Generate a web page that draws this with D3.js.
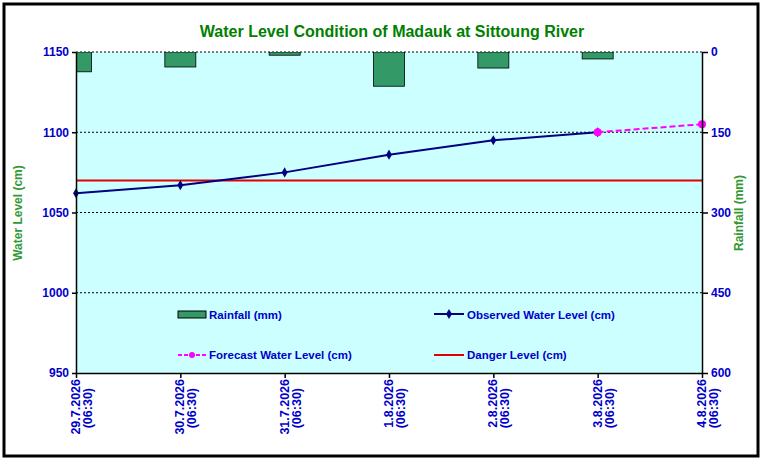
<!DOCTYPE html>
<html><head><meta charset="utf-8">
<script src="https://cdn.jsdelivr.net/npm/d3@7"></script>
<style>body{margin:0;background:#fff}text{font-family:Arial,"Liberation Sans",sans-serif;font-weight:bold}</style>
</head><body><div id="chart"></div>
<script>
var dates = ["29.7.2026", "30.7.2026", "31.7.2026", "1.8.2026", "2.8.2026", "3.8.2026", "4.8.2026"];
var rainfall = [37, 28, 6, 64, 30, 13];
var observed = [1062, 1067, 1075, 1086, 1095, 1100];
var forecast = [null, null, null, null, null, 1100, 1105];
var danger = 1070;
var leftTicks = [950, 1000, 1050, 1100, 1150];
var rightTicks = [0, 150, 300, 450, 600];

var W = 764, H = 463, L = 76, R = 702, T = 52, B = 373;
var svg = d3.select("#chart").append("svg").attr("width", W).attr("height", H);
svg.append("rect").attr("x", 4).attr("y", 4).attr("width", 754).attr("height", 452)
  .attr("fill", "#fff").attr("stroke", "#000").attr("stroke-width", 3);

var x = d3.scalePoint().domain(d3.range(dates.length)).range([L, R]);
var y = d3.scaleLinear().domain([950, 1150]).range([B, T]);
var y2 = d3.scaleLinear().domain([0, 600]).range([T, B]);

svg.append("rect").attr("x", L).attr("y", T).attr("width", R - L).attr("height", B - T).attr("fill", "#ccffff");
svg.append("defs").append("clipPath").attr("id", "pc").append("rect")
  .attr("x", L).attr("y", T).attr("width", R - L).attr("height", B - T);

svg.append("g").selectAll("line").data(leftTicks.slice(1)).join("line")
  .attr("x1", L).attr("x2", R).attr("y1", d => y(d)).attr("y2", d => y(d))
  .attr("stroke", "#000").attr("stroke-dasharray", "2,2").attr("stroke-width", 1);

var bw = 31;
svg.append("g").attr("clip-path", "url(#pc)").selectAll("rect").data(rainfall).join("rect")
  .attr("x", (d, i) => x(i) - bw / 2).attr("y", y2(0)).attr("width", bw).attr("height", d => y2(d) - y2(0))
  .attr("fill", "#339966").attr("stroke", "#000").attr("stroke-width", 0.8);

svg.append("line").attr("x1", L).attr("x2", R).attr("y1", y(danger)).attr("y2", y(danger))
  .attr("stroke", "#e00000").attr("stroke-width", 2);

var line = d3.line().defined(d => d != null).x((d, i) => x(i)).y(d => y(d));
svg.append("path").datum(observed).attr("d", line).attr("fill", "none").attr("stroke", "#000080").attr("stroke-width", 2);
svg.append("path").datum(forecast).attr("d", line).attr("fill", "none").attr("stroke", "#ff00ff")
  .attr("stroke-width", 2).attr("stroke-dasharray", "6,3");
svg.append("g").selectAll("path").data(observed).join("path")
  .attr("transform", (d, i) => "translate(" + x(i) + "," + y(d) + ")")
  .attr("d", d3.symbol(d3.symbolDiamond, 30)).attr("fill", "#000080");
svg.append("g").selectAll("circle").data(forecast.map((d, i) => [d, i]).filter(p => p[0] != null)).join("circle")
  .attr("cx", p => x(p[1])).attr("cy", p => y(p[0])).attr("r", 4).attr("fill", "#ff00ff");

var ax = svg.append("g").attr("transform", "translate(" + L + ",0)")
  .call(d3.axisLeft(y).tickValues(leftTicks).tickFormat(d3.format("d")).tickSize(4).tickSizeOuter(0));
var ax2 = svg.append("g").attr("transform", "translate(" + R + ",0)")
  .call(d3.axisRight(y2).tickValues(rightTicks).tickFormat(d3.format("d")).tickSize(6).tickSizeOuter(0));
var ax3 = svg.append("g").attr("transform", "translate(0," + B + ")")
  .call(d3.axisBottom(x).tickSize(5).tickSizeOuter(0).tickFormat(() => ""));
[ax, ax2, ax3].forEach(g => {
  g.selectAll("path,line").attr("stroke", "#000").attr("stroke-width", 1.5);
  g.selectAll("text").attr("fill", "#0000cc").attr("font-size", 12).style("font-family", "Arial");
});
ax2.selectAll("text").attr("x", 9);

var lab = svg.append("g").selectAll("text").data(dates).join("text")
  .attr("transform", (d, i) => "translate(" + (x(i) + 4) + "," + (B + 6) + ") rotate(-90)")
  .attr("text-anchor", "end").attr("fill", "#0000cc").attr("font-size", 12.5);
lab.append("tspan").attr("x", 0).attr("dy", 0).text(d => d);
lab.append("tspan").attr("x", -9).attr("dy", 12).text("(06:30)");

svg.append("text").attr("x", 392).attr("y", 37).attr("text-anchor", "middle")
  .attr("fill", "#008000").attr("font-size", 16).text("Water Level Condition of Madauk at Sittoung River");
svg.append("text").attr("transform", "translate(22,213) rotate(-90)").attr("text-anchor", "middle")
  .attr("fill", "#339933").attr("font-size", 12).text("Water Level (cm)");
svg.append("text").attr("transform", "translate(743,213) rotate(-90)").attr("text-anchor", "middle")
  .attr("fill", "#339933").attr("font-size", 12).text("Rainfall (mm)");

var lg = svg.append("g").attr("font-size", 11.5);
lg.append("rect").attr("x", 178).attr("y", 311).attr("width", 28).attr("height", 7).attr("fill", "#339966").attr("stroke", "#000");
lg.append("text").attr("x", 209).attr("y", 319).attr("fill", "#0000cc").text("Rainfall (mm)");
lg.append("line").attr("x1", 434).attr("x2", 464).attr("y1", 314).attr("y2", 314).attr("stroke", "#000080").attr("stroke-width", 2);
lg.append("path").attr("transform", "translate(449,314)").attr("d", d3.symbol(d3.symbolDiamond, 30)).attr("fill", "#000080");
lg.append("text").attr("x", 467).attr("y", 319).attr("fill", "#0000cc").text("Observed Water Level (cm)");
lg.append("line").attr("x1", 178).attr("x2", 206).attr("y1", 355).attr("y2", 355).attr("stroke", "#ff00ff").attr("stroke-width", 2).attr("stroke-dasharray", "4,2");
lg.append("circle").attr("cx", 192).attr("cy", 355).attr("r", 3).attr("fill", "#ff00ff");
lg.append("text").attr("x", 209).attr("y", 359).attr("fill", "#0000cc").text("Forecast Water Level (cm)");
lg.append("line").attr("x1", 434).attr("x2", 464).attr("y1", 355).attr("y2", 355).attr("stroke", "#e00000").attr("stroke-width", 2);
lg.append("text").attr("x", 467).attr("y", 359).attr("fill", "#0000cc").text("Danger Level (cm)");
</script></body></html>
